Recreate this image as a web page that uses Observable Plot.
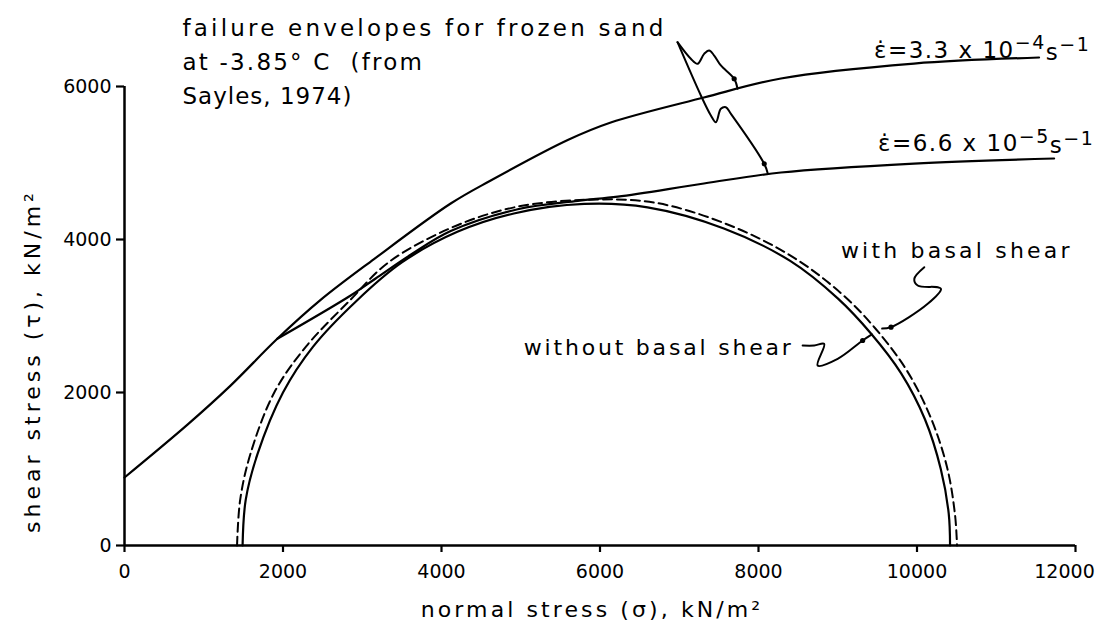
<!DOCTYPE html>
<html>
<head>
<meta charset="utf-8">
<script src="https://cdn.jsdelivr.net/npm/d3@7"></script>
<script src="https://cdn.jsdelivr.net/npm/@observablehq/plot@0.6"></script>
<style>
  html, body { margin: 0; padding: 0; background: #fff; overflow: hidden; }
</style>
</head>
<body>
<div id="chart"></div>
<script>
// ---- tick labels ----
const sigmaTicks = [0, 2000, 4000, 6000, 8000, 10000, 12000];
const tauTicks = [0, 2000, 4000, 6000];

// ---- failure envelope, strain rate 3.3e-4 s^-1 ----
const envFastSigma = [0, 795, 1338, 1928, 2475, 3144, 4116, 4621, 5593, 6136, 7311, 8283, 9962, 11540];
const envFastTau   = [889, 1580, 2090, 2702, 3210, 3740, 4470, 4771, 5300, 5529, 5856, 6105, 6300, 6379];

// ---- failure envelope, strain rate 6.6e-5 s^-1 ----
const envSlowSigma = [1928, 2854, 3169, 3611, 4116, 4962, 5720, 6225, 7311, 8283, 9962, 11730];
const envSlowTau   = [2702, 3268, 3490, 3800, 4110, 4395, 4505, 4560, 4732, 4876, 4993, 5059];

// ---- Mohr circle without basal shear (solid) ----
const solidSigma = [1490, 1530, 1680, 2000, 2380, 2930, 3500, 4200, 4913, 5800, 6600, 7563, 8400, 9000, 9419, 9800, 10100, 10300, 10400, 10417];
const solidTau   = [0, 600, 1200, 2000, 2600, 3200, 3700, 4100, 4340, 4465, 4420, 4144, 3720, 3230, 2771, 2250, 1650, 1000, 420, 0];

// ---- Mohr circle with basal shear (dashed) ----
const dashSigma = [1420, 1460, 1590, 1890, 2290, 2840, 3330, 4116, 4916, 5850, 6700, 7650, 8450, 9060, 9480, 9870, 10170, 10380, 10480, 10505];
const dashTau   = [0, 600, 1200, 2000, 2600, 3200, 3700, 4150, 4420, 4520, 4480, 4180, 3760, 3280, 2830, 2290, 1680, 1020, 400, 0];

// ---- leader squiggles (annotation) ----
const leadFastSigma = [6978, 7146, 7231, 7314, 7377, 7441, 7525, 7693, 7736];
const leadFastTau   = [6579, 6362, 6297, 6427, 6471, 6405, 6275, 6101, 5970];
const leadSlowSigma = [6978, 7273, 7399, 7462, 7525, 7588, 7652, 8072, 8115];
const leadSlowTau   = [6579, 5882, 5621, 5533, 5708, 5729, 5643, 4990, 4870];
const leadWithSigma = [10092, 9966, 10009, 10261, 10303, 10135, 9672, 9560];
const leadWithTau   = [3638, 3486, 3399, 3376, 3355, 3159, 2854, 2835];
const leadWithoutSigma = [8557, 8703, 8829, 8746, 8999, 9314, 9430];
const leadWithoutTau   = [2614, 2614, 2636, 2353, 2440, 2680, 2760];
const arrowSigma = [7693, 8072, 9672, 9314];
const arrowTau   = [6101, 4990, 2854, 2680];

// ---- texts ----
const noteLines = ["failure envelopes for frozen sand", "at -3.85° C  (from", "Sayles, 1974)"];
const rateFast = "ε̇=3.3 x 10|−4|s|−1";
const rateSlow = "ε̇=6.6 x 10|−5|s|−1";
const withLabel = "with basal shear";
const withoutLabel = "without basal shear";
const xTitle = "normal stress (σ), kN/m²";
const yTitle = "shear stress (τ), kN/m²";

const pts = (xs, ys) => xs.map((x, i) => ({x, y: ys[i]}));
const FONT = "'DejaVu Sans', sans-serif";

const plot = Plot.plot({
  width: 1098,
  height: 633,
  marginLeft: 124,
  marginRight: 23,
  marginTop: 86,
  marginBottom: 88,
  style: {fontFamily: FONT, fontSize: "19px", color: "#000", background: "#fff", overflow: "visible"},
  x: {domain: [0, 12000], ticks: sigmaTicks, tickFormat: d => String(d), tickSize: 7, tickPadding: 12, label: null},
  y: {domain: [0, 6000], ticks: tauTicks, tickFormat: d => String(d), tickSize: 8, tickPadding: 5, label: null},
  marks: [
    Plot.ruleY([0], {x1: 0, x2: 12000, strokeWidth: 2.5, stroke: "#000"}),
    Plot.ruleX([0], {y1: 0, y2: 6000, strokeWidth: 2.5, stroke: "#000"}),
    Plot.line(pts(dashSigma, dashTau), {x: "x", y: "y", curve: "catmull-rom", stroke: "#000", strokeWidth: 2, strokeDasharray: "9,5"}),
    Plot.line(pts(solidSigma, solidTau), {x: "x", y: "y", curve: "catmull-rom", stroke: "#000", strokeWidth: 2.2}),
    Plot.line(pts(envFastSigma, envFastTau), {x: "x", y: "y", curve: "catmull-rom", stroke: "#000", strokeWidth: 2.2}),
    Plot.line(pts(envSlowSigma, envSlowTau), {x: "x", y: "y", curve: "catmull-rom", stroke: "#000", strokeWidth: 2.2}),
    Plot.line(pts(leadFastSigma, leadFastTau), {x: "x", y: "y", curve: "catmull-rom", stroke: "#000", strokeWidth: 2}),
    Plot.line(pts(leadSlowSigma, leadSlowTau), {x: "x", y: "y", curve: "catmull-rom", stroke: "#000", strokeWidth: 2}),
    Plot.line(pts(leadWithSigma, leadWithTau), {x: "x", y: "y", curve: "catmull-rom", stroke: "#000", strokeWidth: 2}),
    Plot.line(pts(leadWithoutSigma, leadWithoutTau), {x: "x", y: "y", curve: "catmull-rom", stroke: "#000", strokeWidth: 2}),
    Plot.dot(pts(arrowSigma, arrowTau), {x: "x", y: "y", r: 2.6, fill: "#000", stroke: "none"}),
    Plot.text([noteLines[0]], {x: 732, y: 6760, textAnchor: "start", fontSize: 23, fill: "#000"}),
    Plot.text([noteLines[1]], {x: 732, y: 6310, textAnchor: "start", fontSize: 23, fill: "#000"}),
    Plot.text([noteLines[2]], {x: 732, y: 5865, textAnchor: "start", fontSize: 23, fill: "#000"}),
    Plot.text([rateFast], {x: 9457, y: 6470, textAnchor: "start", fontSize: 23, fill: "#000"}),
    Plot.text([rateSlow], {x: 9508, y: 5250, textAnchor: "start", fontSize: 23, fill: "#000"}),
    Plot.text([withLabel], {x: 9040, y: 3856, textAnchor: "start", fontSize: 22, fill: "#000"}),
    Plot.text([withoutLabel], {x: 5038, y: 2588, textAnchor: "start", fontSize: 22, fill: "#000"}),
    Plot.text([xTitle], {frameAnchor: "bottom", textAnchor: "middle", dy: 71, dx: -8, fontSize: 22, fill: "#000"}),
    Plot.text([yTitle], {frameAnchor: "left", textAnchor: "middle", dx: -92, dy: 45, rotate: -90, fontSize: 22, fill: "#000"})
  ]
});

document.getElementById("chart").appendChild(plot);

// post-styling: letter spacing, superscripts, axis stroke widths
const svg = d3.select(plot);
svg.selectAll("text").each(function() {
  const t = d3.select(this);
  const s = this.textContent;
  if (s === noteLines[0]) t.style("letter-spacing", "3.2px");
  else if (s === noteLines[1]) t.style("letter-spacing", "2.2px");
  else if (s === noteLines[2]) t.style("letter-spacing", "1px");
  else if (s === withLabel) t.style("letter-spacing", "3.2px");
  else if (s === withoutLabel) t.style("letter-spacing", "2.8px");
  else if (s === xTitle) t.style("letter-spacing", "3.1px");
  else if (s === yTitle) t.style("letter-spacing", "4px");
  else if (s === "12000") t.attr("dx", "-11");
  else if (s === rateFast || s === rateSlow) {
    const parts = s.split("|");
    t.text(null).style("letter-spacing", "1.5px");
    t.append("tspan").text(parts[0]);
    t.append("tspan").attr("dy", "-0.45em").attr("font-size", "19px").text(parts[1]);
    t.append("tspan").attr("dy", "0.45em").text(parts[2]);
    t.append("tspan").attr("dy", "-0.45em").attr("font-size", "19px").text(parts[3]);
  }
});
svg.selectAll("g[aria-label*='axis'] path, g[aria-label*='axis'] line").attr("stroke-width", 2.2);
</script>
</body>
</html>
